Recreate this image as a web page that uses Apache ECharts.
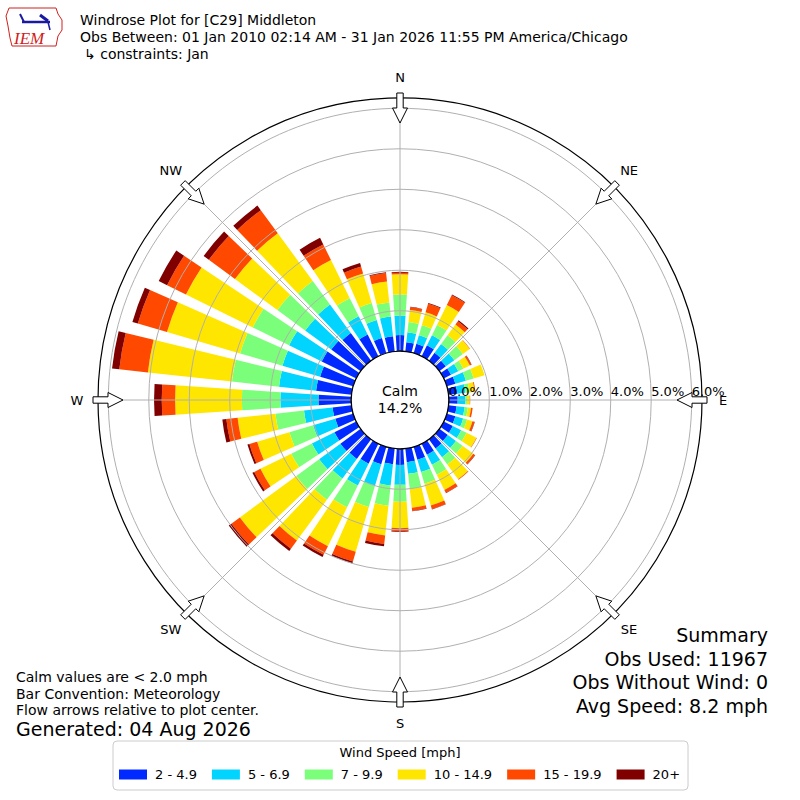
<!DOCTYPE html>
<html>
<head>
<meta charset="utf-8">
<script src="https://cdn.jsdelivr.net/npm/echarts@6/dist/echarts.min.js"></script>
<style>
  html, body { margin: 0; padding: 0; background: #fff; }
  #chart { width: 800px; height: 800px; }
</style>
</head>
<body>
<div id="chart"></div>
<script>
// direction bins, 10 degree wide, centred on 0,10,...,350
const directions = [];
for (let d = 0; d < 360; d += 10) directions.push(String(d));

const speedBins = ["2 - 4.9", "5 - 6.9", "7 - 9.9", "10 - 14.9", "15 - 19.9", "20+"];
const binColors = ["#002aff", "#00d4ff", "#7bff7b", "#ffe600", "#ff4800", "#800000"];

// percent of obs per direction, one array per speed bin
const speed2to5 = [0.40,0.23,0.24,0.30,0.24,0.20,0.20,0.22,0.22,0.22,0.20,0.22,0.25,0.26,0.28,0.30,0.33,0.34,0.40,0.39,0.45,0.55,0.60,0.62,0.60,0.46,0.47,0.81,0.88,0.85,0.95,0.90,0.85,0.60,0.39,0.38];
const speed5to7 = [0.48,0.25,0.22,0.28,0.27,0.26,0.20,0.27,0.20,0.19,0.20,0.20,0.23,0.25,0.27,0.28,0.32,0.29,0.49,0.53,0.55,0.60,0.60,0.65,0.62,0.57,0.71,0.94,0.92,0.97,0.90,0.80,0.87,0.50,0.46,0.49];
const speed7to10 = [0.52,0.25,0.26,0.28,0.27,0.26,0.14,0.20,0.10,0.04,0.08,0.10,0.15,0.20,0.22,0.27,0.30,0.38,0.42,0.50,0.55,0.60,0.65,0.70,0.57,0.61,0.71,0.95,1.17,1.09,1.00,0.85,0.72,0.50,0.44,0.35];
const speed10to15 = [0.50,0.30,0.33,0.55,0.33,0.21,0.18,0.28,0.13,0.07,0.08,0.14,0.27,0.33,0.45,0.42,0.56,0.46,0.65,0.74,1.15,1.07,1.25,1.73,0.85,0.83,0.94,1.65,2.09,1.88,1.84,1.30,1.46,1.05,0.76,0.52];
const speed15to20 = [0.04,0.07,0.22,0.27,0.10,0.01,0.04,0.00,0.02,0.01,0.04,0.05,0.01,0.05,0.02,0.08,0.09,0.08,0.07,0.21,0.25,0.24,0.25,0.26,0.17,0.20,0.28,0.33,0.71,0.75,0.52,0.80,0.71,0.43,0.18,0.21];
const speed20plus = [0.02,0.01,0.02,0.02,0.03,0.00,0.01,0.00,0.00,0.00,0.00,0.01,0.00,0.01,0.00,0.01,0.01,0.01,0.02,0.06,0.05,0.06,0.07,0.08,0.05,0.05,0.10,0.19,0.18,0.14,0.23,0.16,0.14,0.18,0.09,0.02];
const binValues = [speed2to5, speed5to7, speed7to10, speed10to15, speed15to20, speed20plus];

const radiusTicks = [0, 1, 2, 3, 4, 5, 6];
const compassLabels = ["N", "NE", "E", "SE", "S", "SW", "W", "NW"];
const calmPct = "14.2%";
const summaryLines = ["Summary", "Obs Used: 11967", "Obs Without Wind: 0", "Avg Speed: 8.2 mph"];

const CX = 400, CY = 400;
const R_IN = 48.8, R_OUT = 291.7, R_RIM = 302;
const FONT = "DejaVu Sans";

const chart = echarts.init(document.getElementById("chart"), null, { renderer: "svg" });

// outlined flow arrows sitting on the rim, pointing at the centre
function arrow(deg) {
  const a = deg * Math.PI / 180;
  const ux = Math.sin(a), uy = -Math.cos(a);
  const vx = Math.cos(a), vy = Math.sin(a);
  const pt = (r, w) => [CX + ux * r + vx * w, CY + uy * r + vy * w];
  return {
    type: "polygon",
    z: 100,
    shape: { points: [pt(307, -3.2), pt(292, -3.2), pt(292, -7.5), pt(277, 0), pt(292, 7.5), pt(292, 3.2), pt(307, 3.2)] },
    style: { fill: "#fff", stroke: "#000", lineWidth: 1 },
  };
}

function compassText(i) {
  const a = i * 45 * Math.PI / 180;
  const r = i % 2 ? 324 : 323;
  return {
    type: "text", z: 100,
    x: CX + Math.sin(a) * r,
    y: CY - Math.cos(a) * r,
    style: { text: compassLabels[i], font: "13px " + FONT, fill: "#000", align: "center", verticalAlign: "middle" },
  };
}

const textAt = (x, y, text, size) => ({
  type: "text", z: 100, x: x, y: y,
  style: { text: text, font: size + "px " + FONT, fill: "#000", verticalAlign: "middle" },
});

const graphics = [
  // calm circle
  {
    type: "circle",
    z: 50,
    shape: { cx: CX, cy: CY, r: R_IN },
    style: { fill: "#fff", stroke: "#000", lineWidth: 1.2 },
  },
  {
    type: "text", z: 60, x: CX, y: CY - 9,
    style: { text: "Calm", font: "14px " + FONT, fill: "#000", align: "center", verticalAlign: "middle" },
  },
  {
    type: "text", z: 60, x: CX, y: CY + 8,
    style: { text: calmPct, font: "14px " + FONT, fill: "#000", align: "center", verticalAlign: "middle" },
  },
  // IEM logo, rough
  {
    type: "polyline", z: 100,
    shape: { points: [[9, 8], [56, 8], [58, 14], [62, 20], [62, 30], [58, 36], [56, 46], [12, 46], [10, 38], [8, 26], [6, 16], [9, 8]] },
    style: { stroke: "#d02020", fill: "none", lineWidth: 1 },
  },
  { type: "line", z: 100, shape: { x1: 22, y1: 22, x2: 50, y2: 22 }, style: { stroke: "#1a1aa0", lineWidth: 2.5 } },
  { type: "line", z: 100, shape: { x1: 20, y1: 14, x2: 24, y2: 22 }, style: { stroke: "#1a1aa0", lineWidth: 2 } },
  { type: "line", z: 100, shape: { x1: 40, y1: 15, x2: 48, y2: 21 }, style: { stroke: "#1a1aa0", lineWidth: 3 } },
  { type: "line", z: 100, shape: { x1: 48, y1: 22, x2: 50, y2: 30 }, style: { stroke: "#1a1aa0", lineWidth: 1.5 } },
  {
    type: "text", z: 100, x: 14, y: 30,
    style: { text: "IEM", font: "italic 17px 'Liberation Serif'", fill: "#d02020" },
  },
  // header
  textAt(80, 20, "Windrose Plot for [C29] Middleton", 14),
  textAt(80, 37, "Obs Between: 01 Jan 2010 02:14 AM - 31 Jan 2026 11:55 PM America/Chicago", 14),
  textAt(84, 54, "\u21b3 constraints: Jan", 14),
  // footnotes
  textAt(16, 677, "Calm values are < 2.0 mph", 14),
  textAt(16, 693.5, "Bar Convention: Meteorology", 14),
  textAt(16, 710, "Flow arrows relative to plot center.", 14),
  textAt(16, 729, "Generated: 04 Aug 2026", 19),
  // legend title
  {
    type: "text", z: 100, x: 400, y: 752,
    style: { text: "Wind Speed [mph]", font: "13px " + FONT, fill: "#000", align: "center", verticalAlign: "middle" },
  },
];
[0, 45, 90, 135, 180, 225, 270, 315].forEach((d) => graphics.push(arrow(d)));
compassLabels.forEach((_, i) => graphics.push(compassText(i)));
summaryLines.forEach((line, i) => {
  graphics.push({
    type: "text", z: 100, x: 768, y: 635 + i * 23.7,
    style: { text: line, font: "19px " + FONT, fill: "#000", align: "right", verticalAlign: "middle" },
  });
});

const series = speedBins.map((name, i) => ({
  name: name,
  type: "bar",
  coordinateSystem: "polar",
  polarIndex: 0,
  stack: "wind",
  barCategoryGap: "25%",
  itemStyle: { color: binColors[i] },
  data: binValues[i],
  silent: true,
}));

const option = {
  animation: false,
  backgroundColor: "#fff",
  textStyle: { fontFamily: FONT },
  polar: [
    { center: [CX, CY], radius: [R_IN, R_OUT] }, // bars
    { center: [CX, CY], radius: [R_IN, R_OUT] }, // rings + labels
    { center: [CX, CY], radius: [R_IN, R_RIM] }, // spokes + rim
  ],
  angleAxis: [
    {
      polarIndex: 0,
      type: "category",
      data: directions,
      startAngle: 95,
      clockwise: true,
      show: false,
    },
    {
      polarIndex: 1,
      type: "value",
      min: 0,
      max: 360,
      startAngle: 0,
      show: false,
    },
    {
      polarIndex: 2,
      type: "value",
      min: 0,
      max: 360,
      interval: 45,
      startAngle: 90,
      clockwise: true,
      z: 5,
      axisLine: { lineStyle: { color: "#000", width: 1.2 } },
      axisTick: { show: false },
      splitLine: { lineStyle: { color: "#b0b0b0", width: 1 } },
      axisLabel: { show: false },
    },
  ],
  radiusAxis: [
    { polarIndex: 0, type: "value", min: 0, max: 6, show: false },
    {
      polarIndex: 1,
      type: "value",
      min: radiusTicks[0],
      max: radiusTicks[radiusTicks.length - 1],
      interval: 1,
      z: 5,
      axisLine: { show: false },
      axisTick: { show: false },
      splitLine: { lineStyle: { color: "#b0b0b0", width: 1 } },
      axisLabel: {
        fontSize: 13,
        color: "#000",
        fontFamily: FONT,
        align: "left",
        verticalAlign: "bottom",
        margin: 2,
        formatter: (v) => v.toFixed(1) + "%",
      },
    },
    { polarIndex: 2, type: "value", min: 0, max: 1, show: false },
  ],
  legend: {
    data: speedBins,
    left: 113,
    top: 741,
    width: 574,
    padding: [27, 8, 9, 6],
    itemGap: 15,
    itemWidth: 28,
    itemHeight: 10,
    icon: "rect",
    borderColor: "#cccccc",
    borderWidth: 1,
    borderRadius: 4,
    textStyle: { fontSize: 13, color: "#000", fontFamily: FONT, padding: [0, 0, 0, 3] },
  },
  series: series,
  graphic: graphics,
};

chart.setOption(option);
</script>
</body>
</html>
